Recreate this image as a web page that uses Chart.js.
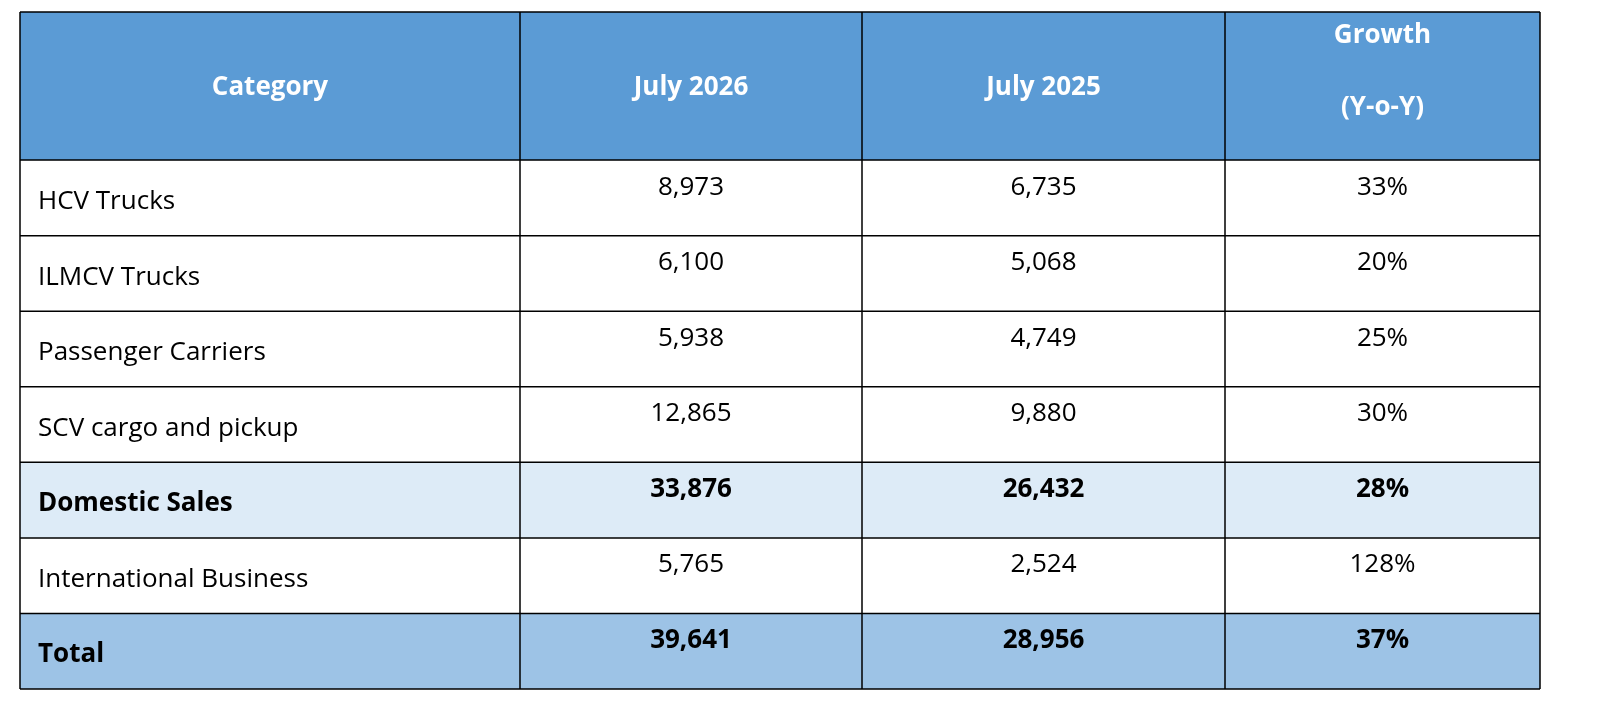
<!DOCTYPE html>
<html><head><meta charset="utf-8">
<script src="https://cdn.jsdelivr.net/npm/chart.js@4/dist/chart.umd.min.js"></script>
<style>html,body{margin:0;background:#fff;overflow:hidden}canvas{display:block}</style>
</head><body><canvas id="c" width="1600" height="718" style="width:1600px;height:718px"></canvas>
<script>
// table content
var headers = ['Category', 'July 2026', 'July 2025', 'Growth\n(Y-o-Y)'];
var categories = ['HCV Trucks','ILMCV Trucks','Passenger Carriers','SCV cargo and pickup','Domestic Sales','International Business','Total'];
var july2026 = ['8,973','6,100','5,938','12,865','33,876','5,765','39,641'];
var july2025 = ['6,735','5,068','4,749','9,880','26,432','2,524','28,956'];
var growth = ['33%','20%','25%','30%','28%','128%','37%'];
var boldRows = ['Domestic Sales','Total'];

// layout (table units)
var colEdges = [0, 500, 842, 1205, 1520];
var headerH = 148, rowH = 75.5;
var rowFill = { 'Domestic Sales':'#DDEBF7', 'Total':'#9DC3E6' };
var FONT = '"Open Sans", "Liberation Sans", sans-serif';

var tablePlugin = {
  id:'table',
  afterDraw: function(chart){
    var ctx = chart.ctx, xs = chart.scales.x, ys = chart.scales.y;
    var X = function(v){ return xs.getPixelForValue(v); };
    var Y = function(v){ return ys.getPixelForValue(v); };
    ctx.save();
    // header
    ctx.fillStyle = '#5B9BD5';
    ctx.fillRect(X(0), Y(0), X(1520)-X(0), Y(headerH)-Y(0));
    ctx.fillStyle = '#fff'; ctx.font = 'bold 26px '+FONT; ctx.textAlign='center'; ctx.textBaseline='middle';
    headers.forEach(function(h,i){
      var cx = (X(colEdges[i])+X(colEdges[i+1]))/2;
      var lines = h.split('\n');
      if(lines.length === 1) ctx.fillText(h, cx, Y(headerH/2)+2);
      else { ctx.fillText(lines[0], cx, Y(24)); ctx.fillText(lines[1], cx, Y(96)); }
    });
    // body
    categories.forEach(function(cat,r){
      var top = headerH + r*rowH, bot = top + rowH;
      if(rowFill[cat]){ ctx.fillStyle = rowFill[cat]; ctx.fillRect(X(0), Y(top), X(1520)-X(0), Y(bot)-Y(top)); }
      var bold = boldRows.indexOf(cat) >= 0;
      ctx.fillStyle = '#000';
      ctx.font = (bold?'bold ':'')+'26px '+FONT;
      ctx.textAlign='left'; ctx.textBaseline='middle';
      ctx.fillText(cat, X(18), Y(top+rowH*0.55));
      ctx.textAlign='center';
      [july2026[r], july2025[r], growth[r]].forEach(function(v,i){
        ctx.fillText(v, (X(colEdges[i+1])+X(colEdges[i+2]))/2, Y(top+rowH*0.36));
      });
    });
    // grid
    ctx.strokeStyle = '#000'; ctx.lineWidth = 1.5;
    var total = headerH + categories.length*rowH;
    ctx.beginPath();
    colEdges.forEach(function(e){ ctx.moveTo(X(e), Y(0)); ctx.lineTo(X(e), Y(total)); });
    ctx.moveTo(X(0), Y(0)); ctx.lineTo(X(1520), Y(0));
    for(var r=0;r<=categories.length;r++){ var yy = Y(headerH + r*rowH); ctx.moveTo(X(0), yy); ctx.lineTo(X(1520), yy); }
    ctx.stroke();
    ctx.restore();
  }
};

new Chart(document.getElementById('c'), {
  type:'scatter',
  data:{ datasets:[{ data:[], pointRadius:0 }] },
  options:{
    responsive:false, maintainAspectRatio:false, animation:false, devicePixelRatio:1,
    layout:{ padding:{ left:20, right:60, top:12, bottom:29 } },
    plugins:{ legend:{ display:false }, tooltip:{ enabled:false } },
    scales:{
      x:{ type:'linear', min:0, max:1520, display:false },
      y:{ type:'linear', min:0, max:headerH + categories.length*rowH, reverse:true, display:false }
    }
  },
  plugins:[tablePlugin]
});
</script></body></html>
